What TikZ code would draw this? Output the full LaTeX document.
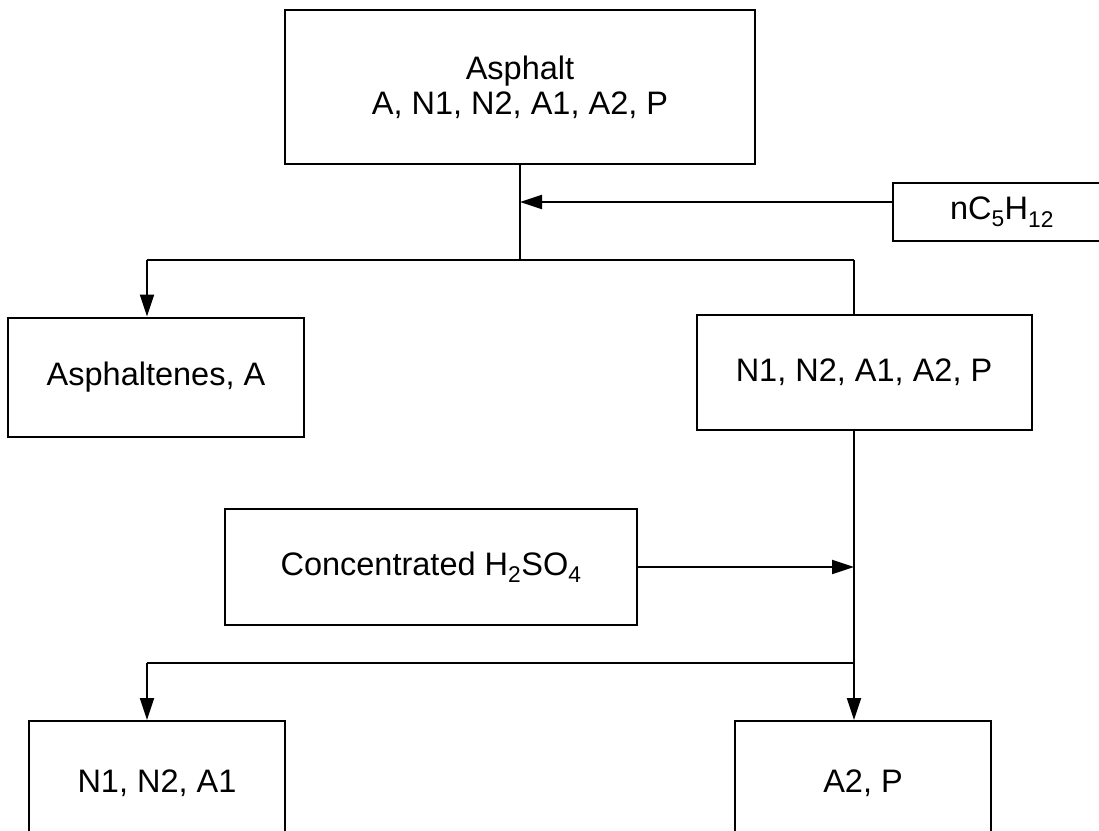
\documentclass[tikz,border=0pt]{standalone}
\usepackage{fontspec}
\setmainfont{Liberation Sans}
\usetikzlibrary{arrows.meta}
\tikzset{
  box/.style={draw, line width=2pt, inner sep=0pt, align=center, font=\fontsize{32.5}{35}\selectfont},
  flow/.style={line width=2pt},
  feed/.style={flow, -{Triangle[length=22pt,width=14pt]}},
}

\begin{document}
\begin{tikzpicture}[x=1pt,y=-1pt]
\useasboundingbox (0,0) rectangle (1099,830);
% boxes
\node[box, minimum width=470pt, minimum height=154pt] (asphalt) at (520,87) {Asphalt\\A, N1, N2, A1, A2, P};
\node[box, minimum width=218pt, minimum height=58pt] (pentane) at (1002,212) {nC\textsubscript{5}H\textsubscript{12}};
\node[box, minimum width=296pt, minimum height=119pt] (asphaltenes) at (156,377) {Asphaltenes, A};
\node[box, minimum width=335pt, minimum height=115pt] (maltenes) at (864,372) {N1, N2, A1, A2, P};
\node[box, minimum width=412pt, minimum height=116pt] (acid) at (431,567) {Concentrated H\textsubscript{2}SO\textsubscript{4}};
\node[box, minimum width=256pt, minimum height=124pt] (resins) at (157,783) {N1, N2, A1};
\node[box, minimum width=256pt, minimum height=124pt] (oils) at (863,783) {A2, P};
% junctions
\coordinate (feed1) at (520,202);
\coordinate (split1) at (520,260);
\coordinate (left1) at (147,260);
\coordinate (right1) at (854,260);
\coordinate (feed2) at (854,567);
\coordinate (split2) at (854,663);
\coordinate (left2) at (147,663);
% connectors
\draw[flow] (asphalt.south) -- (split1);
\draw[feed] (feed1 -| pentane.west) -- (feed1);
\draw[flow] (right1) -- (left1);
\draw[feed] (left1) -- (left1 |- asphaltenes.north);
\draw[flow] (right1) -- (right1 |- maltenes.north);
\draw[feed] (right1 |- maltenes.south) -- (right1 |- oils.north);
\draw[feed] (acid.east) -- (feed2);
\draw[flow] (split2) -- (left2);
\draw[feed] (left2) -- (left2 |- resins.north);
\end{tikzpicture}
\end{document}
